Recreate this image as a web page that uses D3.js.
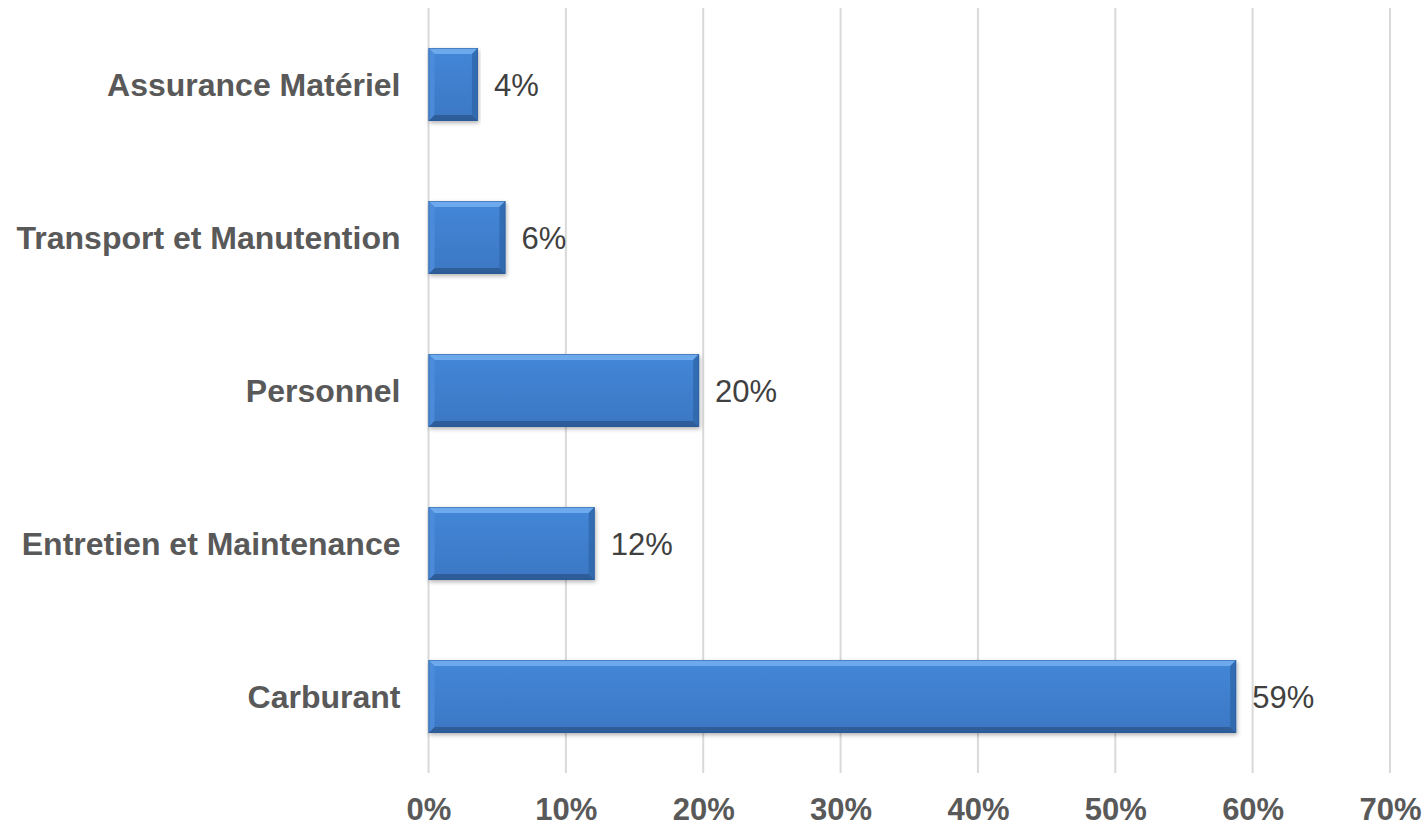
<!DOCTYPE html>
<html>
<head>
<meta charset="utf-8">
<script src="https://cdn.jsdelivr.net/npm/d3@7"></script>
<style>
    body { margin: 0; background: #fff; }
    text { font-family: "Liberation Sans", Arial, sans-serif; }
</style>
</head>
<body>
<div id="chartContainer"></div>
<script>
// chart data
var categories = ["Assurance Matériel", "Transport et Manutention", "Personnel", "Entretien et Maintenance", "Carburant"];
var shares = [0.036, 0.056, 0.197, 0.121, 0.588];
var tickValues = [0, 0.1, 0.2, 0.3, 0.4, 0.5, 0.6, 0.7];

window.onload = setChart;

function setChart(){
    var width = 1426,
        height = 827;

    var margin = {top: 8, right: 36, bottom: 54, left: 428.5};

    var svg = d3.select("#chartContainer")
        .append("svg")
        .attr("width", width)
        .attr("height", height);

    var defs = svg.append("defs");
    setDefs(defs);

    //scales
    var x = d3.scaleLinear()
        .domain([0, 0.7])
        .range([margin.left, width - margin.right]);

    var y = d3.scaleBand()
        .domain(categories)
        .range([margin.top, height - margin.bottom])
        .paddingInner(0.523)
        .paddingOuter(0.2615);

    var pct = d3.format(".0%");

    //gridlines
    svg.selectAll(".grid")
        .data(tickValues)
        .enter()
        .append("line")
        .attr("class", "grid")
        .attr("x1", function(d){ return x(d); })
        .attr("x2", function(d){ return x(d); })
        .attr("y1", margin.top)
        .attr("y2", height - margin.bottom)
        .attr("stroke", "#d9d9d9")
        .attr("stroke-width", 2);

    //x axis tick labels
    var xAxis = d3.axisBottom(x)
        .tickValues(tickValues)
        .tickFormat(pct)
        .tickSize(0)
        .tickPadding(0);

    var xg = svg.append("g")
        .attr("transform", "translate(0," + (height - margin.bottom) + ")")
        .call(xAxis);
    xg.select(".domain").remove();
    xg.selectAll("text")
        .attr("y", 47)
        .attr("dy", 0)
        .style("font-family", "'Liberation Sans', Arial, sans-serif")
        .style("font-size", "31px")
        .style("font-weight", "bold")
        .style("fill", "#595959");

    //category labels
    var yAxis = d3.axisLeft(y)
        .tickSize(0)
        .tickPadding(28);

    var yg = svg.append("g")
        .attr("transform", "translate(" + margin.left + ",0)")
        .call(yAxis);
    yg.select(".domain").remove();
    yg.selectAll("text")
        .attr("dy", "0.35em")
        .style("font-family", "'Liberation Sans', Arial, sans-serif")
        .style("font-size", "32px")
        .style("font-weight", "bold")
        .style("fill", "#595959");

    //bars
    var bars = svg.selectAll(".bar")
        .data(categories)
        .enter()
        .append("g")
        .attr("class", "bar")
        .attr("filter", "url(#barShadow)");

    bars.each(function(d, i){
        drawBevelBar(d3.select(this), x(0), y(d), x(shares[i]) - x(0), y.bandwidth());
    });

    //value labels
    svg.selectAll(".valueLabel")
        .data(categories)
        .enter()
        .append("text")
        .attr("class", "valueLabel")
        .attr("x", function(d, i){ return x(shares[i]) + 16; })
        .attr("y", function(d){ return y(d) + y.bandwidth() / 2; })
        .attr("dy", "0.36em")
        .style("font-size", "31px")
        .style("fill", "#404040")
        .text(function(d, i){ return pct(shares[i]); });
};

function setDefs(defs){
    var face = defs.append("linearGradient")
        .attr("id", "barFace")
        .attr("x1", 0).attr("y1", 0).attr("x2", 0).attr("y2", 1);
    face.append("stop").attr("offset", "0%").attr("stop-color", "#4487d8");
    face.append("stop").attr("offset", "100%").attr("stop-color", "#3b77c3");

    var shadow = defs.append("filter")
        .attr("id", "barShadow")
        .attr("x", "-5%").attr("y", "-20%")
        .attr("width", "110%").attr("height", "150%");
    shadow.append("feDropShadow")
        .attr("dx", 1)
        .attr("dy", 2)
        .attr("stdDeviation", 2)
        .attr("flood-color", "#000")
        .attr("flood-opacity", 0.3);
};

// bar with a bevelled edge, like the office chart effect
function drawBevelBar(g, x0, y0, w, h){
    var b = 6;
    g.append("rect")
        .attr("x", x0).attr("y", y0)
        .attr("width", w).attr("height", h)
        .attr("fill", "url(#barFace)");

    var edges = [
        {pts: [[x0, y0], [x0 + w, y0], [x0 + w - b, y0 + b], [x0 + b, y0 + b]], fill: "#72adef", op: 0.9},
        {pts: [[x0, y0 + h], [x0 + w, y0 + h], [x0 + w - b, y0 + h - b], [x0 + b, y0 + h - b]], fill: "#2a5690", op: 0.8},
        {pts: [[x0, y0], [x0 + b, y0 + b], [x0 + b, y0 + h - b], [x0, y0 + h]], fill: "#4f8fdc", op: 0.8},
        {pts: [[x0 + w, y0], [x0 + w - b, y0 + b], [x0 + w - b, y0 + h - b], [x0 + w, y0 + h]], fill: "#3066aa", op: 0.8}
    ];

    g.selectAll(".edge")
        .data(edges)
        .enter()
        .append("polygon")
        .attr("class", "edge")
        .attr("points", function(d){ return d.pts.map(function(p){ return p.join(","); }).join(" "); })
        .attr("fill", function(d){ return d.fill; })
        .attr("fill-opacity", function(d){ return d.op; });

    g.append("rect")
        .attr("x", x0 + 0.5).attr("y", y0 + 0.5)
        .attr("width", w - 1).attr("height", h - 1)
        .attr("fill", "none")
        .attr("stroke", "#2c5a96")
        .attr("stroke-opacity", 0.5);
};
</script>
</body>
</html>
